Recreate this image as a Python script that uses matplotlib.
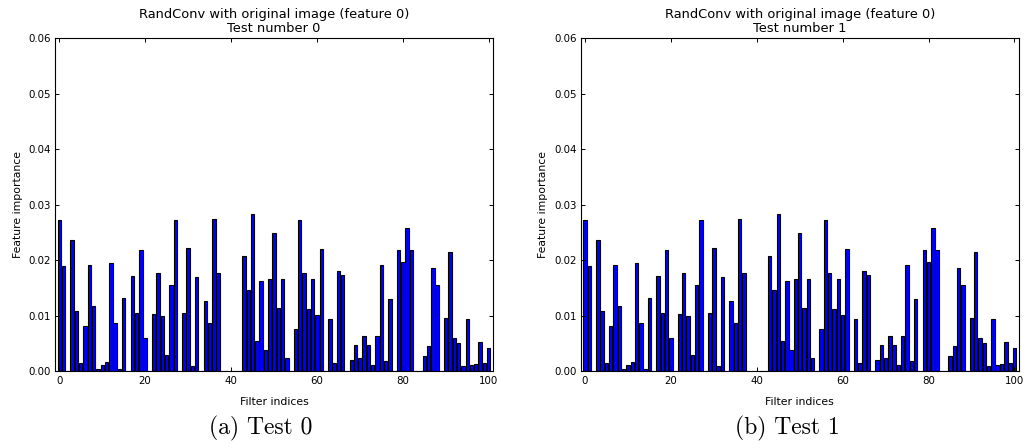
import numpy as np
from matplotlib import pyplot as plt

# feature importance per filter (filters 0..100)
filter_idx = np.arange(101)
importance_test0 = [
    0.0272, 0.0190, 0.0001, 0.0237, 0.0108, 0.0016, 0.0082, 0.0192, 0.0117, 0.0004,
    0.0011, 0.0017, 0.0196, 0.0088, 0.0005, 0.0133, 0.0000, 0.0172, 0.0106, 0.0219,
    0.0061, 0.0000, 0.0104, 0.0178, 0.0100, 0.0030, 0.0155, 0.0272, 0.0000, 0.0105,
    0.0223, 0.0010, 0.0170, 0.0000, 0.0127, 0.0087, 0.0275, 0.0177, 0.0000, 0.0000,
    0.0001, 0.0000, 0.0000, 0.0207, 0.0147, 0.0284, 0.0054, 0.0162, 0.0039, 0.0166,
    0.0249, 0.0114, 0.0166, 0.0025, 0.0000, 0.0077, 0.0273, 0.0177, 0.0113, 0.0166,
    0.0101, 0.0220, 0.0000, 0.0094, 0.0015, 0.0181, 0.0174, 0.0000, 0.0020, 0.0048,
    0.0025, 0.0064, 0.0048, 0.0011, 0.0064, 0.0191, 0.0019, 0.0131, 0.0000, 0.0219,
    0.0197, 0.0259, 0.0219, 0.0000, 0.0001, 0.0027, 0.0046, 0.0187, 0.0156, 0.0000,
    0.0096, 0.0215, 0.0061, 0.0051, 0.0010, 0.0094, 0.0011, 0.0014, 0.0053, 0.0015,
    0.0042,
]
# second test gives the same importances
importance_test1 = list(importance_test0)

tests = [importance_test0, importance_test1]
test_names = ['0', '1']
captions = ['(a) Test 0', '(b) Test 1']

fig = plt.figure(figsize=(10.32, 4.48), dpi=100)
lefts = [0.0533, 0.5627]

for i in range(2):
    ax = fig.add_axes([lefts[i], 0.1708, 0.4244, 0.7444])
    ax.bar(filter_idx, tests[i], width=0.8, align='center',
           color='#0000ff', edgecolor='black', linewidth=0.8)
    ax.set_xlim(-1, 101)
    ax.set_ylim(0, 0.06)
    ax.set_xticks([0, 20, 40, 60, 80, 100])
    ax.set_yticks([0.0, 0.01, 0.02, 0.03, 0.04, 0.05, 0.06])
    ax.set_yticklabels(['%.2f' % v for v in ax.get_yticks()])
    ax.tick_params(direction='in', length=3, width=0.7, top=True, right=True,
                   labelsize=7.4, pad=3)
    for sp in ax.spines.values():
        sp.set_linewidth(0.8)
    ax.set_title('RandConv with original image (feature 0)\nTest number ' + test_names[i],
                 fontsize=9.4, pad=4, linespacing=1.1)
    ax.set_xlabel('Filter indices', fontsize=7.8)
    ax.set_ylabel('Feature importance', fontsize=7.8)
    ax.xaxis.set_label_coords(0.5, -0.078)
    ax.yaxis.set_label_coords(-0.074, 0.5)

# subfigure captions
fig.text(261 / 1032, 1 - 428 / 448, captions[0], family='cmr10', fontsize=17,
         ha='center', va='center')
fig.text(787 / 1032, 1 - 428 / 448, captions[1], family='cmr10', fontsize=17,
         ha='center', va='center')

fig.savefig('out.png', dpi=100)
